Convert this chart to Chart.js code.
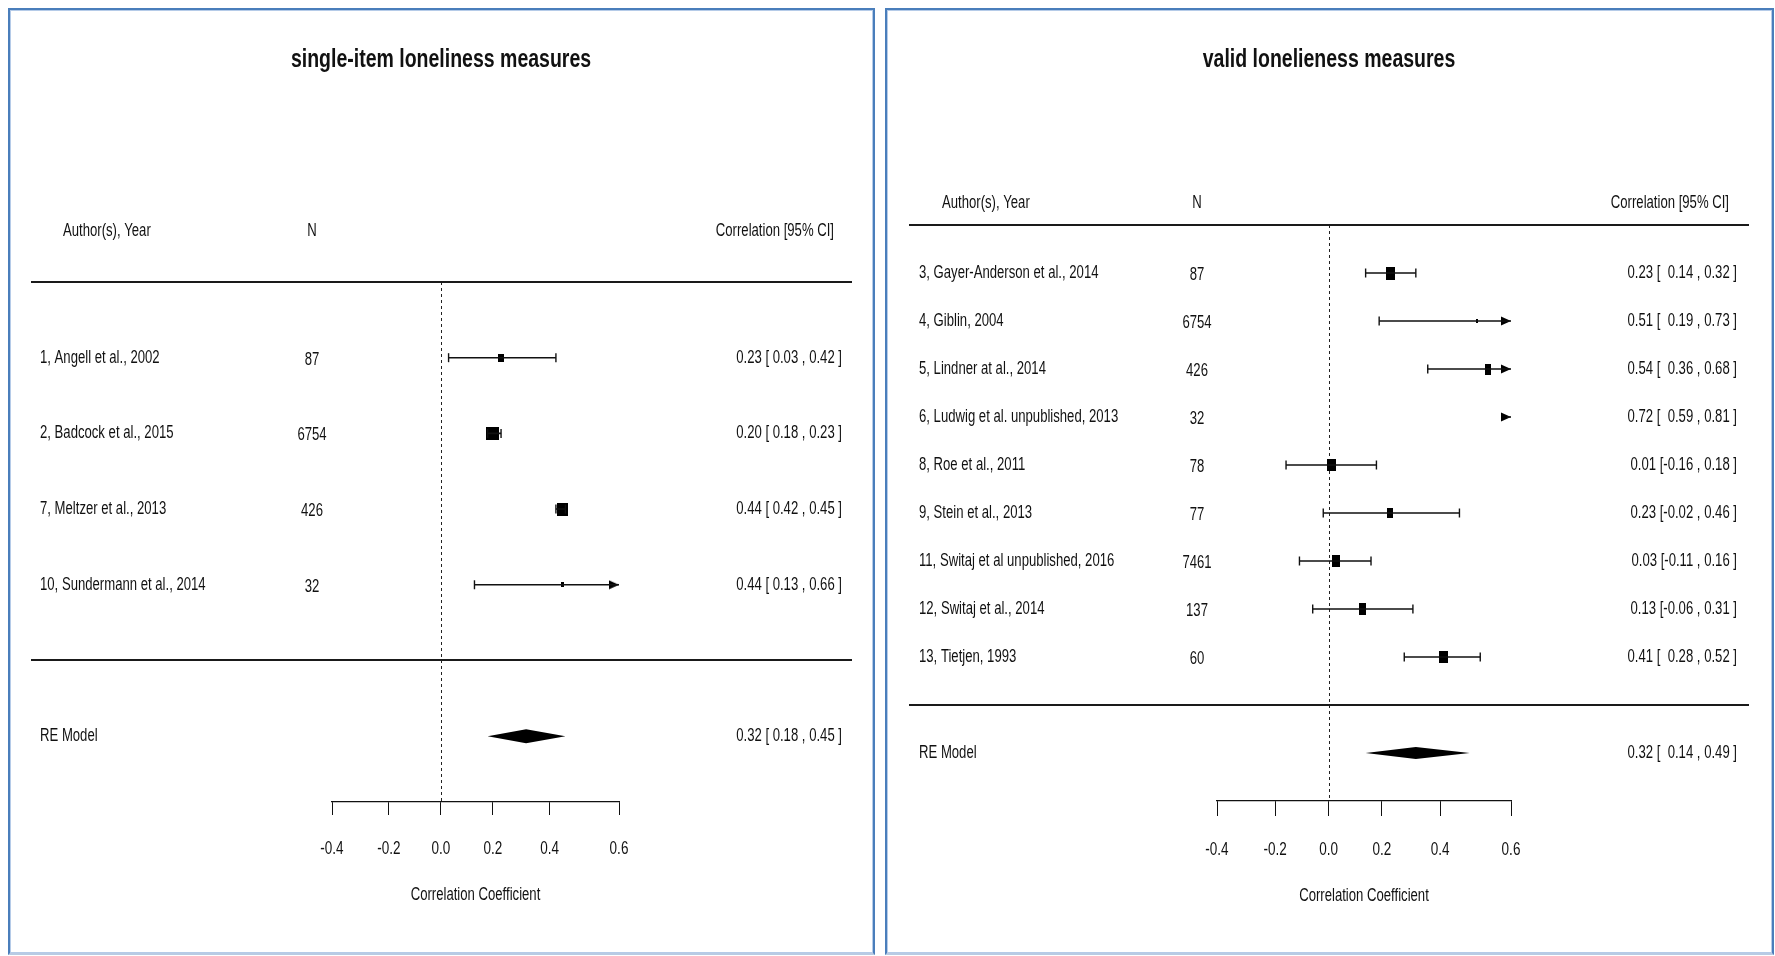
<!DOCTYPE html>
<html>
<head>
<meta charset="utf-8">
<script src="https://cdn.jsdelivr.net/npm/chart.js@4.4.1/dist/chart.umd.min.js"></script>
<style>
  html, body { margin: 0; padding: 0; background: #fff; }
  body { width: 1775px; height: 956px; position: relative; overflow: hidden; }
  canvas { position: absolute; top: 0; }
  .frame { position: absolute; top: 8px; height: 947px; box-sizing: border-box;
           border: 2px solid #4a7ebb; border-bottom-color: #b9cbe3; box-shadow: inset 0 0 0 1px #b5cbe8; }
</style>
</head>
<body>
<div class="frame" style="left:8px;width:867px"></div>
<div class="frame" style="left:885px;width:889px"></div>
<canvas id="chartA" width="880" height="956" style="left:0"></canvas>
<canvas id="chartB" width="895" height="956" style="left:880px"></canvas>
<script>
// ---- data ----
const tickR = [-0.4, -0.2, 0.0, 0.2, 0.4, 0.6];

const studiesA = ['1, Angell et al., 2002', '2, Badcock et al., 2015', '7, Meltzer et al., 2013', '10, Sundermann et al., 2014'];
const nA = [87, 6754, 426, 32];
const corA = [0.23, 0.20, 0.44, 0.44];
const lowA = [0.03, 0.18, 0.42, 0.13];
const highA = [0.42, 0.23, 0.45, 0.66];
const reA = [0.32, 0.18, 0.45];

const studiesB = ['3, Gayer-Anderson et al., 2014', '4, Giblin, 2004', '5, Lindner at al., 2014',
  '6, Ludwig et al. unpublished, 2013', '8, Roe et al., 2011', '9, Stein et al., 2013',
  '11, Switaj et al unpublished, 2016', '12, Switaj et al., 2014', '13, Tietjen, 1993'];
const nB = [87, 6754, 426, 32, 78, 77, 7461, 137, 60];
const corB = [0.23, 0.51, 0.54, 0.72, 0.01, 0.23, 0.03, 0.13, 0.41];
const lowB = [0.14, 0.19, 0.36, 0.59, -0.16, -0.02, -0.11, -0.06, 0.28];
const highB = [0.32, 0.73, 0.68, 0.81, 0.18, 0.46, 0.16, 0.31, 0.52];
const reB = [0.32, 0.14, 0.49];

// ---- layout / style (pixels) ----
const SX = 0.75;            // horizontal squeeze of the original text
const FONT = "'Liberation Sans', Arial, sans-serif";

const layoutA = {
  title: 'single-item loneliness measures',
  pad: { left: 332, right: 261, top: 282, bottom: 0 }, axisH: 154, tickLen: 13, tickLabY: 849, xlabY: 895,
  yMin: -1.87, titleX: 441, titleY: 60, headY: 231, labX: 40, headX: 63, nX: 312, estR: 842, headR: 834,
  ruleX0: 31, ruleX1: 852, diaH: 14,
  box: [[6, 8], [13, 13], [11, 13], [3, 5]]
};
const layoutB = {
  title: 'valid lonelieness measures',
  pad: { left: 337, right: 264, top: 225, bottom: 0 }, axisH: 155, tickLen: 15, tickLabY: 850, xlabY: 896,
  yMin: -2, titleX: 449, titleY: 60, headY: 203, labX: 39, headX: 62, nX: 317, estR: 857, headR: 849,
  ruleX0: 29, ruleX1: 869, diaH: 12,
  box: [[9, 13], [2, 4], [6, 11], [0, 0], [9, 12], [6, 10], [8, 12], [7, 12], [9, 12]]
};

function rectImg(w, h) {
  const c = document.createElement('canvas');
  c.width = Math.max(w, 1); c.height = Math.max(h, 1);
  const g = c.getContext('2d');
  g.fillStyle = '#000';
  g.fillRect(0, 0, w, h);
  return c;
}

// arrow head with its tip at the centre of the image
function arrowImg() {
  const c = document.createElement('canvas');
  c.width = 22; c.height = 10;
  const g = c.getContext('2d');
  g.fillStyle = '#000';
  g.beginPath(); g.moveTo(1, 0.5); g.lineTo(11, 5); g.lineTo(1, 9.5); g.closePath(); g.fill();
  return c;
}

function txt(ctx, s, x, y, align, font) {
  ctx.save();
  ctx.translate(x, y);
  ctx.scale(SX, 1);
  ctx.font = font;
  ctx.textAlign = align;
  ctx.textBaseline = 'middle';
  ctx.fillStyle = '#111';
  ctx.fillText(s, 0, 0);
  ctx.restore();
}

// values padded like the original: extra room for a minus sign when the column has one
function ciText(r, lo, hi, anyNeg) {
  const pad = lo < 0 ? '' : (anyNeg ? '  ' : ' ');
  return r.toFixed(2) + ' [' + pad + lo.toFixed(2) + ' , ' + hi.toFixed(2) + ' ]';
}

function buildChart(id, studies, n, cor, low, high, re, L) {
  const k = studies.length;
  const zMin = Math.atanh(tickR[0]);
  const zMax = Math.atanh(tickR[tickR.length - 1]);
  const anyNeg = low.some(v => v < 0);

  const ci = [], caps = [], boxes = [], boxStyles = [], arrows = [];
  cor.forEach((r, i) => {
    const y = k - i;
    const zl = Math.max(Math.atanh(low[i]), zMin);
    const zh = Math.min(Math.atanh(high[i]), zMax);
    ci.push({ x: zl, y: y }, { x: zh, y: y }, { x: zh, y: null });
    if (zl < zMax - 0.03) caps.push({ x: zl, y: y });
    if (high[i] <= tickR[tickR.length - 1]) caps.push({ x: zh, y: y });
    else arrows.push({ x: zMax, y: y });
    const z = Math.atanh(r);
    if (z >= zMin && z <= zMax) {
      boxes.push({ x: z, y: y });
      boxStyles.push(rectImg(L.box[i][0], L.box[i][1]));
    }
  });

  const decor = {
    id: 'decor',
    beforeDatasetsDraw(chart) {
      const { ctx, chartArea, scales: { x, y } } = chart;
      const x0 = Math.round(x.getPixelForValue(0)) + 0.5;
      ctx.save();
      ctx.strokeStyle = '#222';
      ctx.lineWidth = 1;
      ctx.setLineDash([3, 3]);
      ctx.beginPath();
      ctx.moveTo(x0, y.getPixelForValue(k + 1));
      ctx.lineTo(x0, chartArea.bottom);
      ctx.stroke();
      ctx.setLineDash([]);
      ctx.lineWidth = 2;
      ctx.strokeStyle = '#1a1a1a';
      [k + 1, 0].forEach(v => {
        const py = Math.round(y.getPixelForValue(v));
        ctx.beginPath(); ctx.moveTo(L.ruleX0, py); ctx.lineTo(L.ruleX1, py); ctx.stroke();
      });
      ctx.restore();
    },
    afterDatasetsDraw(chart) {
      const { ctx, chartArea, scales: { x, y } } = chart;
      // pooled estimate diamond
      const yc = y.getPixelForValue(-1);
      const xl = x.getPixelForValue(Math.atanh(re[1]));
      const xc = x.getPixelForValue(Math.atanh(re[0]));
      const xh = x.getPixelForValue(Math.atanh(re[2]));
      ctx.save();
      ctx.fillStyle = '#000';
      ctx.beginPath();
      ctx.moveTo(xl, yc); ctx.lineTo(xc, yc - L.diaH / 2); ctx.lineTo(xh, yc); ctx.lineTo(xc, yc + L.diaH / 2);
      ctx.closePath(); ctx.fill();
      ctx.restore();

      const f = '17.5px ' + FONT;
      txt(ctx, L.title, L.titleX, L.titleY, 'center', 'bold 26px ' + FONT);
      txt(ctx, 'Author(s), Year', L.headX, L.headY, 'left', f);
      txt(ctx, 'N', L.nX, L.headY, 'center', f);
      txt(ctx, 'Correlation [95% CI]', L.headR, L.headY, 'right', f);
      studies.forEach((s, i) => {
        const py = y.getPixelForValue(k - i);
        txt(ctx, s, L.labX, py, 'left', f);
        txt(ctx, String(n[i]), L.nX, py + 2, 'center', f);
        txt(ctx, ciText(cor[i], low[i], high[i], anyNeg), L.estR, py, 'right', f);
      });
      txt(ctx, 'RE Model', L.labX, yc, 'left', f);
      txt(ctx, ciText(re[0], re[1], re[2], anyNeg), L.estR, yc, 'right', f);

      // tick labels (back-transformed r) and axis title, in the squeezed face
      x.ticks.forEach(t => {
        const lab = t.label !== undefined ? t.label : Math.tanh(t.value).toFixed(1);
        txt(ctx, lab, x.getPixelForValue(t.value), L.tickLabY, 'center', '18px ' + FONT);
      });
      txt(ctx, 'Correlation Coefficient', (chartArea.left + chartArea.right) / 2, L.xlabY, 'center', f);
    }
  };

  return new Chart(document.getElementById(id), {
    type: 'scatter',
    data: {
      datasets: [
        { data: ci, showLine: true, borderColor: '#111', borderWidth: 1.6, pointRadius: 0, pointHoverRadius: 0, spanGaps: false, clip: false },
        { data: caps, pointStyle: 'line', pointRotation: 90, pointRadius: 4.5, pointBorderWidth: 1.4, pointBorderColor: '#111', clip: false },
        { data: boxes, pointStyle: boxStyles, pointRadius: 3, clip: false },
        { data: arrows, pointStyle: arrowImg(), pointRadius: 3, clip: false }
      ]
    },
    options: {
      responsive: false,
      animation: false,
      devicePixelRatio: 1,
      layout: { padding: L.pad },
      plugins: { legend: { display: false }, tooltip: { enabled: false }, title: { display: false } },
      scales: {
        x: {
          type: 'linear',
          min: Math.atanh(tickR[0]),
          max: Math.atanh(tickR[tickR.length - 1]),
          afterBuildTicks: s => { s.ticks = tickR.map(v => ({ value: Math.atanh(v) })); },
          afterFit: s => { s.height = L.axisH; },
          ticks: {
            display: false, autoSkip: false, maxRotation: 0,
            callback: v => Math.tanh(v).toFixed(1)
          },
          grid: { drawOnChartArea: false, drawTicks: true, tickLength: L.tickLen, color: '#111', lineWidth: 1 },
          border: { display: true, color: '#111', width: 1.2 },
          title: { display: false }
        },
        y: { type: 'linear', display: false, min: L.yMin, max: k + 1 }
      }
    },
    plugins: [decor]
  });
}

buildChart('chartA', studiesA, nA, corA, lowA, highA, reA, layoutA);
buildChart('chartB', studiesB, nB, corB, lowB, highB, reB, layoutB);
</script>
</body>
</html>
